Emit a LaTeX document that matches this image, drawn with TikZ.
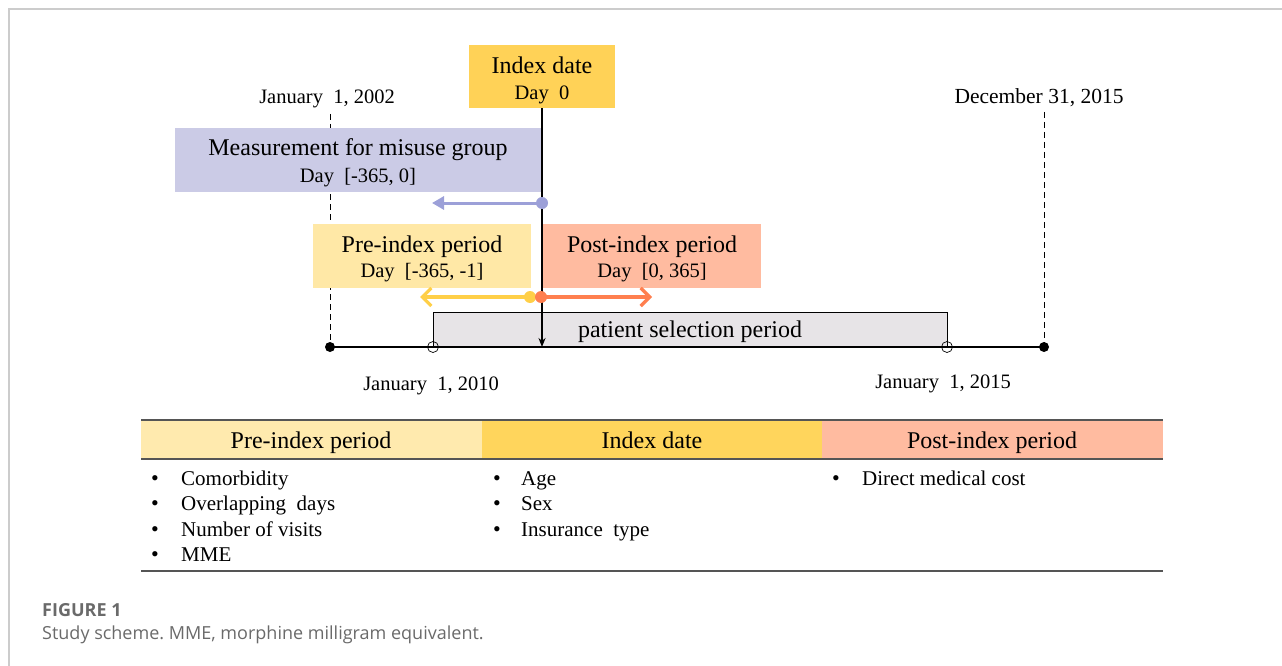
\documentclass[tikz,border=0pt]{standalone}
\usepackage{fontspec}
\setmainfont{Liberation Serif}
\newfontfamily\capfont{Open Sans}
\usetikzlibrary{arrows.meta}
\definecolor{idxc}{HTML}{FFD257}
\definecolor{measc}{HTML}{CBCBE6}
\definecolor{prec}{HTML}{FFE8A6}
\definecolor{postc}{HTML}{FFBBA0}
\definecolor{selc}{HTML}{E7E4E7}
\definecolor{bluec}{HTML}{9CA0D8}
\definecolor{yelc}{HTML}{FFCF47}
\definecolor{orac}{HTML}{FF7F4F}
\definecolor{rulec}{HTML}{555555}
\definecolor{thpre}{HTML}{FFEAAE}
\definecolor{thidx}{HTML}{FFD55C}
\definecolor{thpost}{HTML}{FFBBA0}
\definecolor{capc}{HTML}{6A6A6A}
\definecolor{framec}{HTML}{CCCCCC}
\newcommand{\bigtxt}{\fontsize{24}{27}\selectfont}
\newcommand{\smltxt}{\fontsize{20.5}{27}\selectfont}
\begin{document}
\frenchspacing
\begin{tikzpicture}[x=1pt,y=-1pt,
  box/.style={rectangle,inner sep=0pt,anchor=center},
  ltop/.style={font=\bigtxt,inner sep=0pt,anchor=base},
  lbot/.style={font=\smltxt,inner sep=0pt,anchor=base},
  datelab/.style={font=\fontsize{20.5}{24}\selectfont,inner sep=0pt,anchor=base},
  item/.style={font=\fontsize{21}{24}\selectfont,inner sep=0pt,anchor=base west},
  bul/.style={font=\fontsize{22}{24}\selectfont,inner sep=0pt,anchor=base},
  thead/.style={font=\fontsize{24}{27}\selectfont,inner sep=0pt,anchor=base},
  rule/.style={draw=rulec,line width=1.4pt},
  dashv/.style={draw=black,line width=0.8pt,dash pattern=on 6pt off 4pt},
  dot/.style={circle,inner sep=0pt,minimum size=#1},
]
\useasboundingbox (0,0) rectangle (1282,666);
% frame
\draw[framec,line width=1.5pt] (9,666) -- (9,9) -- (1282,9);

% coordinates of the time axis
\coordinate (ax0) at (330,347);
\coordinate (ax1) at (1044,347);
\coordinate (s0) at (433,347);
\coordinate (s1) at (947,347);
\coordinate (d0) at (542,347);

% date labels
\node[datelab] (jan02) at (327,104) {January\ \ 1, 2002};
\node[datelab,font=\fontsize{21.5}{24}\selectfont] (dec15) at (1039,104) {December\ 31, 2015};
\node[datelab] (jan10) at (431,390) {January\ \ 1, 2010};
\node[datelab] (jan15) at (943,388) {January\ \ 1, 2015};

% dashed verticals
\coordinate (dv0) at (330,114);
\coordinate (dv1) at (1044,112);
\draw[dashv] (dv0) -- (ax0);
\draw[dashv] (dv1) -- (ax1);

% patient selection period
\fill[selc] (433,312) rectangle (947,347);
\draw[black,line width=0.8pt] (s0) -- (433,312) -- (947,312) -- (s1);
\node[ltop] (sel) at (690,337) {patient selection period};

% boxes
\node[box,fill=idxc,minimum width=146pt,minimum height=63pt] (idx) at (542,76.5) {};
\node[ltop] (idx1) at (542,74) {Index date};
\node[lbot] (idx2) at (542,100) {Day\ \ 0};
\node[box,fill=measc,minimum width=366pt,minimum height=64pt] (meas) at (358,160) {};
\node[ltop] (meas1) at (358,156) {Measurement for misuse group};
\node[lbot] (meas2) at (358,182) {Day\ \ [-365, 0]};
\node[box,fill=prec,minimum width=218pt,minimum height=64pt] (pre) at (422,256) {};
\node[ltop] (pre1) at (422,252) {Pre-index period};
\node[lbot] (pre2) at (422,277) {Day\ \ [-365, -1]};
\node[box,fill=postc,minimum width=218pt,minimum height=64pt] (post) at (652,256) {};
\node[ltop] (post1) at (652,252) {Post-index period};
\node[lbot] (post2) at (652,277) {Day\ \ [0, 365]};

% index vertical line
\draw[black,line width=1.6pt,-{Stealth[length=9pt,width=7pt]}] (idx.south) -- (d0);

% axis
\draw[black,line width=2.6pt] (ax0) -- (ax1);
\node[dot=10pt,fill=black] (e0) at (ax0) {};
\node[dot=10pt,fill=black] (e1) at (ax1) {};
\node[dot=11pt,draw=black,line width=0.7pt] (o0) at (s0) {};
\node[dot=11pt,draw=black,line width=0.7pt] (o1) at (s1) {};

% period arrows
\coordinate (bend) at (432,203);
\coordinate (yend) at (420,297);
\coordinate (oend) at (652,297);
\node[dot=12pt,fill=bluec] (bdot) at (542,203) {};
\draw[bluec,line width=3pt,-{Triangle[length=12pt,width=13pt]}] (bdot.center) -- (bend);
\draw[yelc,line width=3.2pt,-{Straight Barb[length=9pt,width=18pt,line width=3.2pt]}] (530,297) -- (yend);
\node[dot=12pt,fill=yelc] (ydot) at (530,297) {};
\draw[orac,line width=3.2pt,-{Straight Barb[length=9pt,width=18pt,line width=3.2pt]}] (541,297) -- (oend);
\node[dot=12pt,fill=orac] (odot) at (541,297) {};

% table
\fill[thpre] (141,421) rectangle (482,459);
\fill[thidx] (482,421) rectangle (822,459);
\fill[thpost] (822,421) rectangle (1163,459);
\draw[rule] (141,420) -- (1163,420);
\draw[rule] (141,459) -- (1163,459);
\draw[rule] (141,571) -- (1163,571);
\node[thead] (h1) at (311,448) {Pre-index period};
\node[thead] (h2) at (652,448) {Index date};
\node[thead] (h3) at (992,448) {Post-index period};

\foreach \y/\t [count=\i] in {485/Comorbidity,510/Overlapping\ \ days,536/Number of visits,561/MME}{
  \node[bul] (b1\i) at (155,\y) {•};
  \node[item] (t1\i) at (181,\y) {\t};
}
\foreach \y/\t [count=\i] in {485/Age,510/Sex,536/Insurance\ \ type}{
  \node[bul] (b2\i) at (497,\y) {•};
  \node[item] (t2\i) at (521,\y) {\t};
}
\node[bul] (b31) at (836,485) {•};
\node[item] (t31) at (862,485) {Direct medical cost};

% caption
\node[anchor=west,inner sep=0pt,font=\capfont\fontsize{18}{22}\selectfont\bfseries,text=capc] (fig) at (42,610) {FIGURE 1};
\node[anchor=west,inner sep=0pt,font=\capfont\fontsize{18}{22}\selectfont,text=capc] (cap) at (42,635) {Study scheme. MME, morphine milligram equivalent.};
\end{tikzpicture}
\end{document}
